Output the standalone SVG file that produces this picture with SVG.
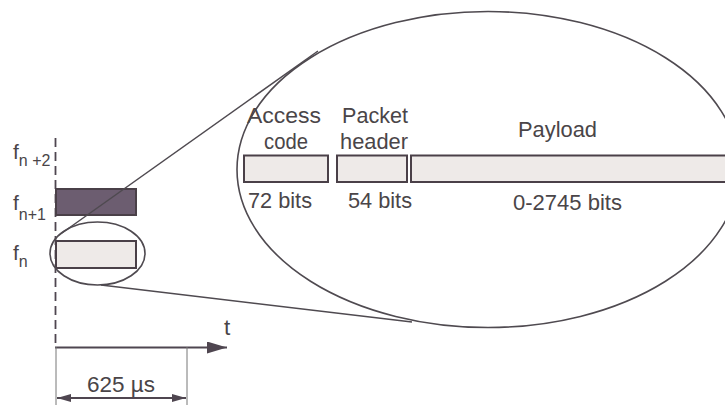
<svg xmlns="http://www.w3.org/2000/svg" width="725" height="405" viewBox="0 0 725 405">
  <defs>
    <style>
      .txt { font-family: "Liberation Sans", Arial, sans-serif; fill: #4a4548; }
      .lbl { font-size: 22.5px; }
      .f { font-size: 21px; }
      .sub { font-size: 16px; }
      .slot { stroke: #4a4048; stroke-width: 2; }
      .light { fill: #eeeae8; }
      .dark { fill: #6c5d70; }
      .outline { fill: none; stroke: #4f4a50; stroke-width: 1.6; }
      .link { fill: none; stroke: #4f4a50; stroke-width: 1.5; }
      .axis { stroke: #4f4650; stroke-width: 2.2; fill: none; }
      .thin { stroke: #777; stroke-width: 1; }
    </style>
    <marker id="head" viewBox="0 0 20 12" refX="20" refY="6" markerWidth="20" markerHeight="12" markerUnits="userSpaceOnUse" orient="auto">
      <path d="M0,0 L20,6 L0,12 Z" fill="#4f4650"/>
    </marker>
    <marker id="dimhead" viewBox="0 0 14 8" refX="14" refY="4" markerWidth="14" markerHeight="8" markerUnits="userSpaceOnUse" orient="auto-start-reverse">
      <path d="M0,0 L14,4 L0,8 Z" fill="#4f4650"/>
    </marker>
  </defs>

  <rect width="725" height="405" fill="#ffffff"/>

  <!-- frequency axis (dashed) -->
  <line x1="55.5" y1="138" x2="55.5" y2="347" stroke="#4f4650" stroke-width="1.8" stroke-dasharray="9,5"/>

  <!-- frequency labels -->
  <g id="freq-labels" class="txt">
    <text x="13" y="159" class="f">f<tspan class="sub" dy="7">n +2</tspan></text>
    <text x="13" y="210" class="f">f<tspan class="sub" dy="10">n+1</tspan></text>
    <text x="13" y="260" class="f">f<tspan class="sub" dy="7">n</tspan></text>
  </g>

  <!-- hop slots -->
  <g id="slot-n1">
    <rect x="56" y="189" width="80" height="26" class="slot dark"/>
  </g>
  <g id="slot-n">
    <rect x="56" y="241" width="80" height="27" class="slot light"/>
  </g>

  <!-- selection around slot f_n -->
  <g id="slot-focus">
    <ellipse cx="97.5" cy="253.5" rx="47.5" ry="31.5" class="outline"/>
  </g>

  <!-- magnified packet -->
  <g id="packet-view">
    <ellipse cx="488" cy="169.5" rx="251" ry="158" class="outline"/>
  </g>

  <g id="access-code">
    <rect x="244" y="155.5" width="84" height="26.5" class="slot light"/>
    <text class="txt lbl" x="247" y="123" textLength="74" lengthAdjust="spacingAndGlyphs">Access</text>
    <text class="txt lbl" x="264" y="149" textLength="44" lengthAdjust="spacingAndGlyphs">code</text>
    <text class="txt lbl" x="248" y="208" textLength="64" lengthAdjust="spacingAndGlyphs">72 bits</text>
  </g>

  <g id="packet-header">
    <rect x="337" y="155.5" width="70" height="26.5" class="slot light"/>
    <text class="txt lbl" x="342" y="123" textLength="66" lengthAdjust="spacingAndGlyphs">Packet</text>
    <text class="txt lbl" x="340" y="149" textLength="68" lengthAdjust="spacingAndGlyphs">header</text>
    <text class="txt lbl" x="348" y="208" textLength="64" lengthAdjust="spacingAndGlyphs">54 bits</text>
  </g>

  <g id="payload">
    <rect x="411" y="155.5" width="316" height="26.5" class="slot light"/>
    <text class="txt lbl" x="518" y="137" textLength="79" lengthAdjust="spacingAndGlyphs">Payload</text>
    <text class="txt lbl" x="513" y="210" textLength="109" lengthAdjust="spacingAndGlyphs">0-2745 bits</text>
  </g>

  <!-- connectors -->
  <g id="connectors">
    <line x1="62" y1="233" x2="318" y2="51" class="link"/>
    <line x1="101" y1="285" x2="412" y2="322" class="link"/>
  </g>

  <!-- time axis and slot duration -->
  <g id="time-axis">
    <line x1="55" y1="347.5" x2="227" y2="347.5" class="axis" marker-end="url(#head)"/>
    <text class="txt lbl" x="224" y="335">t</text>
    <line x1="56" y1="347" x2="56" y2="405" class="thin"/>
    <line x1="187" y1="347" x2="187" y2="405" class="thin"/>
    <line x1="57" y1="398" x2="186" y2="398" stroke="#4f4650" stroke-width="1.8" marker-start="url(#dimhead)" marker-end="url(#dimhead)"/>
    <text class="txt lbl" x="87" y="392" textLength="68" lengthAdjust="spacingAndGlyphs">625 µs</text>
  </g>
</svg>
